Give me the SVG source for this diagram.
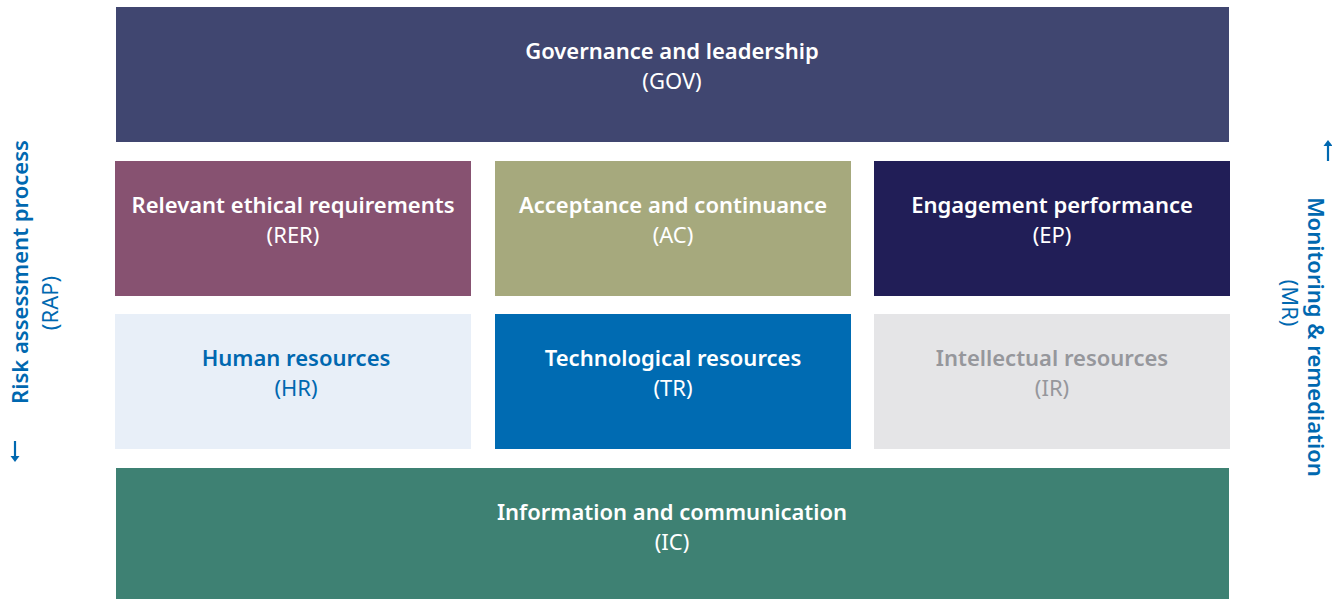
<svg xmlns="http://www.w3.org/2000/svg" width="1332" height="599" viewBox="0 0 1332 599">
  <defs>
    <style>
      text { font-family: "Noto Sans", "Open Sans", "Liberation Sans", sans-serif; font-size: 22px; text-anchor: middle; }
      .t { font-weight: 600; }
      .w { fill: #ffffff; }
      .b { fill: #0068B0; }
      .g { fill: #96979C; }
    </style>
  </defs>
  <rect width="1332" height="599" fill="#ffffff"/>

  <g id="GOV">
    <rect x="116" y="7" width="1113" height="135" fill="#404670"/>
    <text class="t w" x="672" y="59">Governance and leadership</text>
    <text class="w" x="672" y="89">(GOV)</text>
  </g>

  <g id="RER">
    <rect x="115" y="161" width="356" height="135" fill="#875271"/>
    <text class="t w" x="293" y="213">Relevant ethical requirements</text>
    <text class="w" x="293" y="243">(RER)</text>
  </g>
  <g id="AC">
    <rect x="495" y="161" width="356" height="135" fill="#A6A97D"/>
    <text class="t w" x="673" y="213">Acceptance and continuance</text>
    <text class="w" x="673" y="243">(AC)</text>
  </g>
  <g id="EP">
    <rect x="874" y="161" width="356" height="135" fill="#211E57"/>
    <text class="t w" x="1052" y="213">Engagement performance</text>
    <text class="w" x="1052" y="243">(EP)</text>
  </g>

  <g id="HR">
    <rect x="115" y="314" width="356" height="135" fill="#E8EFF8"/>
    <text class="t b" x="296" y="366">Human resources</text>
    <text class="b" x="296" y="396">(HR)</text>
  </g>
  <g id="TR">
    <rect x="495" y="314" width="356" height="135" fill="#006BB2"/>
    <text class="t w" x="673" y="366">Technological resources</text>
    <text class="w" x="673" y="396">(TR)</text>
  </g>
  <g id="IR">
    <rect x="874" y="314" width="356" height="135" fill="#E5E5E7"/>
    <text class="t g" x="1052" y="366">Intellectual resources</text>
    <text class="g" x="1052" y="396">(IR)</text>
  </g>

  <g id="IC">
    <rect x="116" y="468" width="1113" height="131" fill="#3E8173"/>
    <text class="t w" x="672" y="520">Information and communication</text>
    <text class="w" x="672" y="550">(IC)</text>
  </g>

  <g id="RAP">
    <text class="t b" transform="translate(28 272) rotate(-90)">Risk assessment process</text>
    <text class="b" transform="translate(58 303) rotate(-90)">(RAP)</text>
  </g>
  <g id="MR">
    <text class="t b" transform="translate(1308 337) rotate(90)">Monitoring &amp; remediation</text>
    <text class="b" transform="translate(1282 303) rotate(90)">(MR)</text>
  </g>

  <g id="connectors" fill="none" stroke="#0068B0" stroke-width="2.2">
    <path d="M15 441 V459"/>
    <path d="M10.5 456 L15 462 L19.5 456 Z" fill="#0068B0" stroke="none"/>
    <path d="M1328 161 V143"/>
    <path d="M1323.5 146 L1328 140 L1332.5 146 Z" fill="#0068B0" stroke="none"/>
  </g>
</svg>
